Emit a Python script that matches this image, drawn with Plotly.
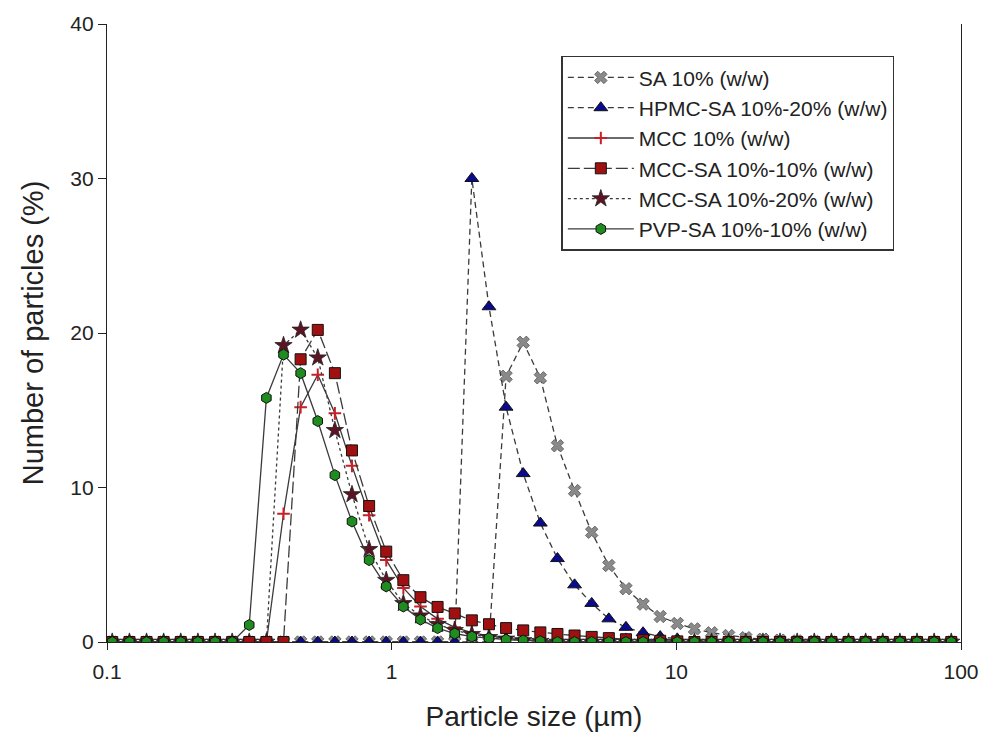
import plotly.graph_objects as go

# particle size classes (µm)
sizes = [0.1043, 0.1199, 0.1377, 0.1581, 0.1816, 0.2086, 0.2396, 0.2752, 0.3160, 0.3630,
         0.4169, 0.4788, 0.5500, 0.6317, 0.7254, 0.8332, 0.9570, 1.0992, 1.2625, 1.4499,
         1.6654, 1.9127, 2.1969, 2.5232, 2.8979, 3.3285, 3.8229, 4.3907, 5.0429, 5.7920,
         6.6523, 7.6404, 8.7754, 10.079, 11.576, 13.296, 15.270, 17.539, 20.144, 23.137,
         26.573, 30.520, 35.053, 40.260, 46.241, 53.109, 60.998, 70.059, 80.466, 92.417]

sa_10 = [0, 0, 0, 0, 0, 0, 0, 0, 0, 0,
         0, 0, 0, 0, 0, 0, 0, 0, 0, 0,
         0, 0, 0, 17.2, 19.4, 17.1, 12.7, 9.8, 7.1, 4.95,
         3.45, 2.45, 1.65, 1.2, 0.85, 0.6, 0.42, 0.28, 0.18, 0.12,
         0.07, 0.04, 0, 0, 0, 0, 0, 0, 0, 0]

hpmc_sa = [0, 0, 0, 0, 0, 0, 0, 0, 0, 0,
           0, 0, 0, 0, 0, 0, 0, 0, 0, 0,
           0, 30.0, 21.7, 15.2, 10.9, 7.7, 5.4, 3.7, 2.5, 1.5,
           0.95, 0.6, 0.35, 0.2, 0.1, 0.05, 0, 0, 0, 0,
           0, 0, 0, 0, 0, 0, 0, 0, 0, 0]

mcc_10 = [0, 0, 0, 0, 0, 0, 0, 0, 0, 0,
          8.3, 15.2, 17.3, 14.8, 11.4, 8.2, 5.3, 3.5, 2.3, 1.5,
          0.95, 0.6, 0.4, 0.25, 0.15, 0.1, 0.05, 0, 0, 0,
          0, 0, 0, 0, 0, 0, 0, 0, 0, 0,
          0, 0, 0, 0, 0, 0, 0, 0, 0, 0]

mcc_sa_10 = [0, 0, 0, 0, 0, 0, 0, 0, 0, 0,
             0, 18.3, 20.2, 17.4, 12.4, 8.8, 5.85, 4.0, 2.9, 2.27,
             1.85, 1.4, 1.15, 0.9, 0.75, 0.62, 0.52, 0.42, 0.33, 0.25,
             0.18, 0.12, 0.08, 0.04, 0, 0, 0, 0, 0, 0,
             0, 0, 0, 0, 0, 0, 0, 0, 0, 0]

mcc_sa_20 = [0, 0, 0, 0, 0, 0, 0, 0, 0, 0,
             19.2, 20.2, 18.4, 13.7, 9.55, 6.0, 4.0, 2.5, 1.7, 1.15,
             0.75, 0.5, 0.3, 0.2, 0.1, 0.05, 0, 0, 0, 0,
             0, 0, 0, 0, 0, 0, 0, 0, 0, 0,
             0, 0, 0, 0, 0, 0, 0, 0, 0, 0]

pvp_sa = [0, 0, 0, 0, 0, 0, 0, 0, 1.1, 15.8,
          18.6, 17.4, 14.3, 10.8, 7.8, 5.3, 3.6, 2.3, 1.45, 0.9,
          0.55, 0.35, 0.25, 0.15, 0.1, 0.05, 0, 0, 0, 0,
          0, 0, 0, 0, 0, 0, 0, 0, 0, 0,
          0, 0, 0, 0, 0, 0, 0, 0, 0, 0]

x_tickvals = [0.1, 1, 10, 100]
x_ticktext = ["0.1", "1", "10", "100"]
y_tickvals = [0, 10, 20, 30, 40]

LINE = "#3a3a3a"
FONT = "Liberation Sans, Arial, sans-serif"

fig = go.Figure()

# drawing order (bottom -> top) with separate legend ranks
fig.add_trace(go.Scatter(
    x=sizes, y=sa_10, name="SA 10% (w/w)", mode="lines+markers", legendrank=1,
    line=dict(color=LINE, width=1.3, dash="6px,4px"),
    marker=dict(symbol="x", size=11, color="#8a8a8a", line=dict(color="#555555", width=0.8))))

fig.add_trace(go.Scatter(
    x=sizes, y=hpmc_sa, name="HPMC-SA 10%-20% (w/w)", mode="lines+markers", legendrank=2,
    line=dict(color=LINE, width=1.3, dash="6px,4px"),
    marker=dict(symbol="triangle-up", size=12, color="#0a0a8c", line=dict(color="#111111", width=1))))

fig.add_trace(go.Scatter(
    x=sizes, y=mcc_10, name="MCC 10% (w/w)", mode="lines+markers", legendrank=3,
    line=dict(color=LINE, width=1.3),
    marker=dict(symbol="cross-thin", size=9, color="#c8202a", line=dict(color="#c8202a", width=2))))

fig.add_trace(go.Scatter(
    x=sizes, y=mcc_sa_20, name="MCC-SA 10%-20% (w/w)", mode="lines+markers", legendrank=5,
    line=dict(color=LINE, width=1.3, dash="dot"),
    marker=dict(symbol="star", size=13, color="#5c1424", line=dict(color="#222222", width=0.8))))

fig.add_trace(go.Scatter(
    x=sizes, y=mcc_sa_10, name="MCC-SA 10%-10% (w/w)", mode="lines+markers", legendrank=4,
    line=dict(color=LINE, width=1.3, dash="12px,4px"),
    marker=dict(symbol="square", size=11, color="#a01010", line=dict(color="#111111", width=1))))

fig.add_trace(go.Scatter(
    x=sizes, y=pvp_sa, name="PVP-SA 10%-10% (w/w)", mode="lines+markers", legendrank=6,
    line=dict(color=LINE, width=1.3),
    marker=dict(symbol="hexagon", size=11, color="#1e8c1e", line=dict(color="#111111", width=1))))

fig.update_layout(
    width=991, height=742,
    margin=dict(l=107, r=25, t=20, b=100),
    paper_bgcolor="white", plot_bgcolor="white",
    font=dict(family=FONT, color="#222222"),
    showlegend=True,
    legend=dict(x=0.532, y=0.9486, xanchor="left", yanchor="top",
                bordercolor="#333333", borderwidth=1.5, bgcolor="white",
                font=dict(family=FONT, size=21, color="#222222"),
                itemwidth=66, tracegroupgap=0),
)

fig.update_xaxes(
    type="log", range=[-1, 2], tickvals=x_tickvals, ticktext=x_ticktext,
    showgrid=False, zeroline=False, showline=True, linecolor="#222222", linewidth=1.3,
    ticks="outside", ticklen=7, tickcolor="#222222", ticklabelstandoff=4,
    tickfont=dict(family=FONT, size=21, color="#222222"),
    title=dict(text="Particle size (µm)", font=dict(family=FONT, size=28, color="#222222"), standoff=24),
)
fig.update_yaxes(
    range=[0, 40], tickvals=y_tickvals,
    showgrid=False, zeroline=False, showline=True, linecolor="#222222", linewidth=1.3,
    mirror=True,
    ticks="outside", ticklen=8, tickcolor="#222222",
    tickfont=dict(family=FONT, size=21, color="#222222"),
    title=dict(text="Number of particles (%)", font=dict(family=FONT, size=29, color="#222222"), standoff=18),
)

fig.write_html("out.html")
